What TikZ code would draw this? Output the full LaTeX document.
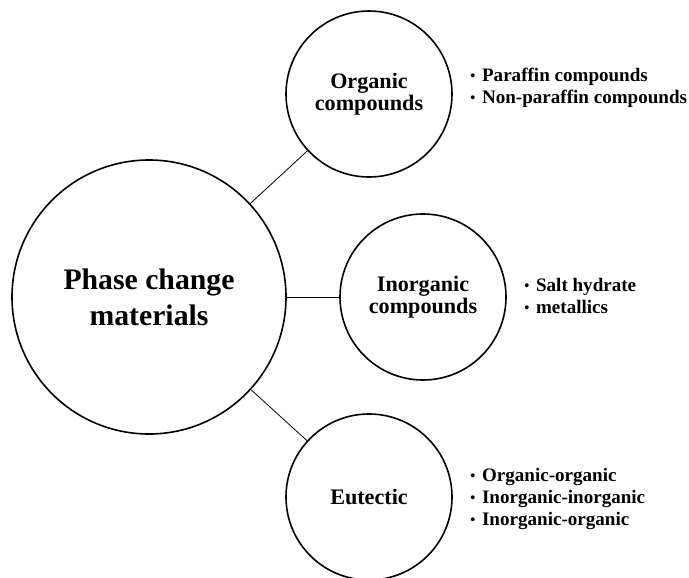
\documentclass[tikz,border=0pt]{standalone}
\usepackage{graphicx}
\usepackage{fontspec}
\setmainfont{Liberation Serif}
\usetikzlibrary{positioning}
\newcommand{\itembullet}{\raisebox{0.15ex}{\scalebox{0.75}{\textbullet}}\hspace{5pt}}

\begin{document}
\begin{tikzpicture}[x=0.75pt, y=-0.75pt,
    hub/.style={circle, draw, line width=1.2pt, inner sep=0pt, minimum size=205.5pt,
      align=center, font=\bfseries\fontsize{22.3}{27}\selectfont},
    branch/.style={circle, draw, line width=1.2pt, inner sep=0pt, minimum size=124.5pt,
      align=center, font=\bfseries\fontsize{16.6}{16.8}\selectfont},
    items/.style={anchor=west, inner sep=0pt, align=left,
      font=\bfseries\fontsize{14.3}{16.5}\selectfont},
    link/.style={line width=0.6pt}]
    \useasboundingbox (0,0) rectangle (689,578);

    % Hub
    \node[hub] (pcm) at (149,297) {Phase change\\materials};

    % Branches
    \node[branch] (organic) at (369,94) {Organic\\compounds};
    \node[branch] (inorganic) at (423,297) {Inorganic\\compounds};
    \node[branch] (eutectic) at (369,497) {Eutectic};

    \draw[link] (pcm) -- (organic);
    \draw[link] (pcm) -- (inorganic);
    \draw[link] (pcm) -- (eutectic);

    % Lists
    \node[items, right=13pt of organic, yshift=4.5pt] (organiclist) {
        \itembullet Paraffin compounds\\
        \itembullet Non-paraffin compounds};
    \node[items, right=13pt of inorganic, yshift=0.8pt] (inorganiclist) {
        \itembullet Salt hydrate\\
        \itembullet metallics};
    \node[items, right=13pt of eutectic, yshift=-1.5pt] (eutecticlist) {
        \itembullet Organic-organic\\
        \itembullet Inorganic-inorganic\\
        \itembullet Inorganic-organic};
\end{tikzpicture}
\end{document}
